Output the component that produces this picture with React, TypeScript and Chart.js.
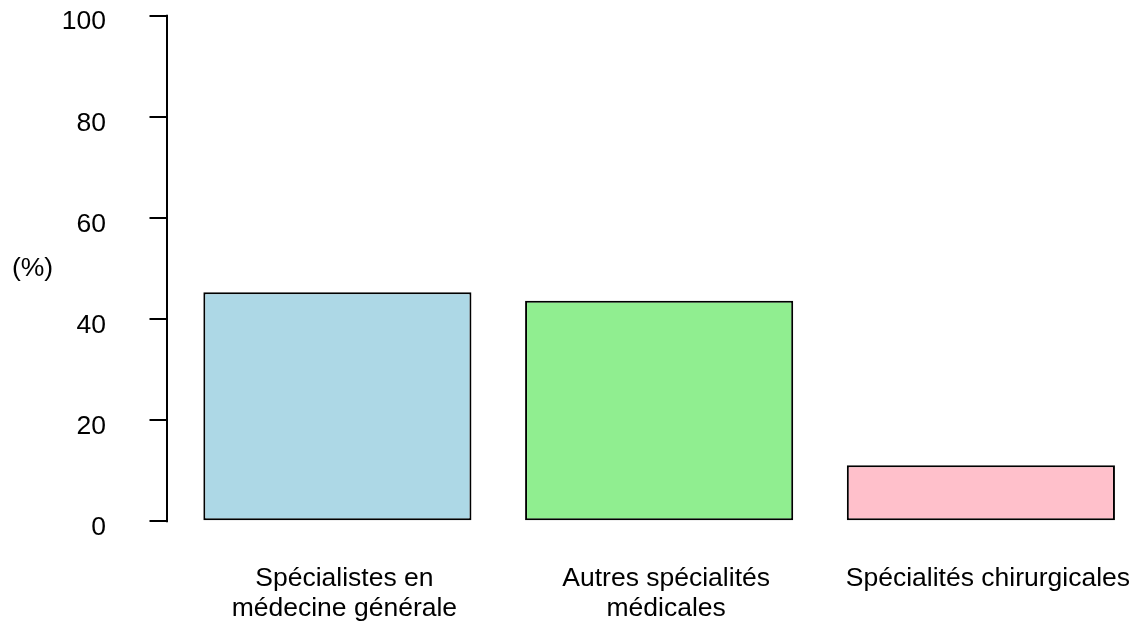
import React, { useEffect, useRef } from "react";
import { Chart, registerables } from "chart.js";

Chart.register(...registerables);

// ---- data ----
const categories: string[][] = [
  ["Spécialistes en", "médecine générale"],
  ["Autres spécialités", "médicales"],
  ["Spécialités chirurgicales"],
];
const barCenters: number[] = [0.7, 1.9, 3.1];
const values: number[] = [45.3, 43.6, 11.1];
const barColors: string[] = ["#ADD8E6", "#90EE90", "#FFC0CB"];
const yTicks: number[] = [0, 20, 40, 60, 80, 100];
const yLabel = "(%)";

const FONT = "'Liberation Sans', Arial, Helvetica, sans-serif";
const FONT_SIZE = 26.5;
const LINE_W = 2;

const axisPlugin = {
  id: "rStyleAxis",
  afterDraw(chart: any) {
    const ys = chart.scales.y;
    const ctx = chart.ctx as CanvasRenderingContext2D;
    const x = chart.chartArea.left;
    ctx.save();
    ctx.strokeStyle = "#000";
    ctx.lineWidth = LINE_W;
    ctx.beginPath();
    ctx.moveTo(x, ys.getPixelForValue(yTicks[0]) + LINE_W / 2);
    ctx.lineTo(x, ys.getPixelForValue(yTicks[yTicks.length - 1]) - LINE_W / 2);
    ctx.stroke();
    ctx.font = `${FONT_SIZE}px ${FONT}`;
    ctx.fillStyle = "#000";
    ctx.textAlign = "center";
    ctx.textBaseline = "middle";
    ctx.fillText(yLabel, 32.5, ys.getPixelForValue(50));
    ctx.restore();
  },
};

export default function App() {
  const ref = useRef<HTMLCanvasElement | null>(null);

  useEffect(() => {
    if (!ref.current) return;
    const chart = new Chart(ref.current, {
      type: "bar",
      data: {
        datasets: [
          {
            data: barCenters.map((c, i) => ({ x: c, y: values[i] })),
            backgroundColor: barColors,
            borderColor: "#000",
            borderWidth: LINE_W,
            borderSkipped: false,
            categoryPercentage: 1 / 1.2,
            barPercentage: 1,
          } as any,
        ],
      },
      options: {
        animation: false,
        responsive: false,
        layout: { padding: 0 },
        plugins: {
          legend: { display: false },
          tooltip: { enabled: false },
          title: { display: false },
        },
        scales: {
          x: {
            type: "linear",
            min: 0.0645,
            max: 3.6785,
            offset: false,
            grid: { display: false },
            border: { display: false },
            afterBuildTicks: (s: any) => {
              s.ticks = barCenters.map((v) => ({ value: v }));
            },
            afterFit: (s: any) => {
              s.height = 85.5;
              s.paddingLeft = 0;
              s.paddingRight = 0;
            },
            ticks: {
              autoSkip: false,
              maxRotation: 0,
              minRotation: 0,
              padding: 14,
              labelOffset: 7,
              color: "#000",
              font: { family: FONT, size: FONT_SIZE, lineHeight: 1.13 },
              callback: (_v: any, i: number) => categories[i],
            },
          },
          y: {
            type: "linear",
            min: -4,
            max: 103.1,
            afterBuildTicks: (s: any) => {
              s.ticks = yTicks.map((v) => ({ value: v }));
            },
            afterFit: (s: any) => {
              s.width = 167;
              s.paddingTop = 0;
              s.paddingBottom = 0;
            },
            grid: {
              display: true,
              drawOnChartArea: false,
              drawTicks: true,
              tickLength: 17.5,
              color: "#000",
              lineWidth: LINE_W,
            },
            border: { display: false },
            ticks: {
              padding: 43.5,
              labelOffset: 6.5,
              color: "#000",
              font: { family: FONT, size: FONT_SIZE },
              callback: (v: any) => String(v),
            },
          },
        },
      } as any,
      plugins: [axisPlugin],
    });
    return () => chart.destroy();
  }, []);

  return (
    <div style={{ position: "absolute", left: 0, top: 0, width: 1136, height: 627, background: "#fff" }}>
      <canvas ref={ref} width={1136} height={627} style={{ display: "block" }} />
    </div>
  );
}
